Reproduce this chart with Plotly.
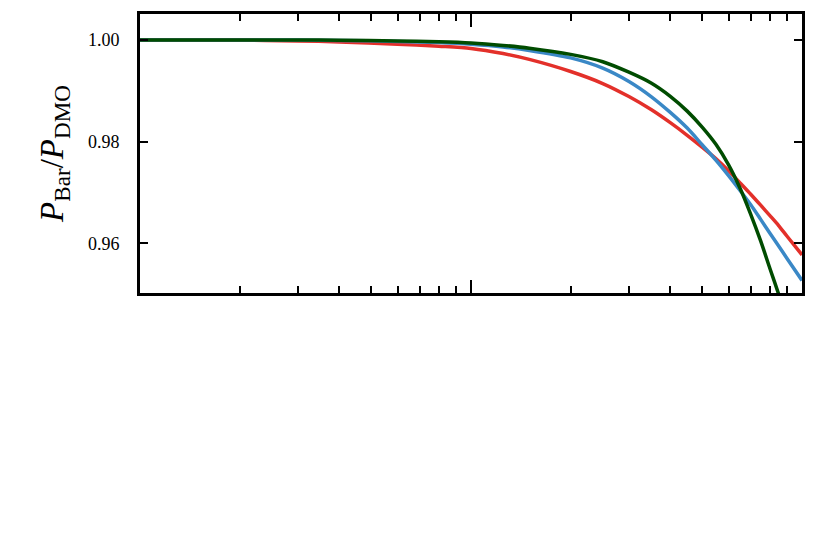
import plotly.graph_objects as go

k = [0.1, 0.2, 0.3, 0.4, 0.6, 0.8, 1.0, 1.25, 1.5, 2.0, 2.5, 3.0, 3.5, 4.0, 4.5,
     5.0, 5.5, 6.0, 6.5, 7.0, 7.5, 8.0, 8.5, 9.0, 10.0]

ratio_red = [1.0000, 0.99996, 0.99980, 0.99961, 0.99917, 0.99876, 0.99833, 0.99732,
             0.99616, 0.99378, 0.99142, 0.98885, 0.98629, 0.98371, 0.98123, 0.97885,
             0.97661, 0.97427, 0.97187, 0.96964, 0.96748, 0.96543, 0.96347, 0.96142,
             0.95770]
ratio_blue = [1.0000, 1.0000, 0.99996, 0.99990, 0.99971, 0.99947, 0.99915, 0.99862,
              0.99793, 0.99646, 0.99445, 0.99182, 0.98886, 0.98574, 0.98265, 0.97932,
              0.97631, 0.97330, 0.97037, 0.96756, 0.96469, 0.96197, 0.95945, 0.95705,
              0.95268]
ratio_green = [1.0000, 1.0000, 1.0000, 0.99994, 0.99980, 0.99965, 0.99941, 0.99892,
               0.99837, 0.99715, 0.99571, 0.99365, 0.99152, 0.98890, 0.98599, 0.98279,
               0.97940, 0.97541, 0.97080, 0.96567, 0.96044, 0.95503, 0.94997, 0.94491,
               0.93547]

y_ticks = [0.96, 0.98, 1.00]
y_ticktext = ["0.96", "0.98", "1.00"]

series = [
    ("red", ratio_red, "#e3302a"),
    ("blue", ratio_blue, "#3a88c6"),
    ("green", ratio_green, "#004c00"),
]

fig = go.Figure()
for name, vals, col in series:
    fig.add_trace(go.Scatter(x=k, y=vals, mode="lines", name=name,
                             line=dict(color=col, width=3.5, shape="spline", smoothing=0.8),
                             showlegend=False))

fig.update_layout(
    width=831, height=547, autosize=False,
    margin=dict(l=132, r=37, t=6, b=262),
    paper_bgcolor="white", plot_bgcolor="white",
    font=dict(family="Liberation Serif", color="black", size=18),
)
fig.update_xaxes(
    type="log", range=[-1, 1], dtick=1, automargin=False,
    showgrid=False, zeroline=False, showticklabels=False,
    showline=True, linecolor="black", linewidth=3, mirror="ticks",
    ticks="inside", ticklen=13, tickwidth=2, tickcolor="black",
    minor=dict(ticks="inside", ticklen=7, tickwidth=2, tickcolor="black", dtick="D1", showgrid=False),
)
fig.update_yaxes(
    range=[0.9502, 1.0051], tickvals=y_ticks, ticktext=y_ticktext, automargin=False,
    showgrid=False, zeroline=False,
    showline=True, linecolor="black", linewidth=3, mirror="ticks",
    ticks="inside", ticklen=8, tickwidth=2, tickcolor="black",
    ticklabelstandoff=14,
    title=dict(text="<i>P</i><sub>Bar</sub>/<i>P</i><sub>DMO</sub>",
               font=dict(family="Liberation Serif", size=33), standoff=15),
)
fig.write_html("out.html")
